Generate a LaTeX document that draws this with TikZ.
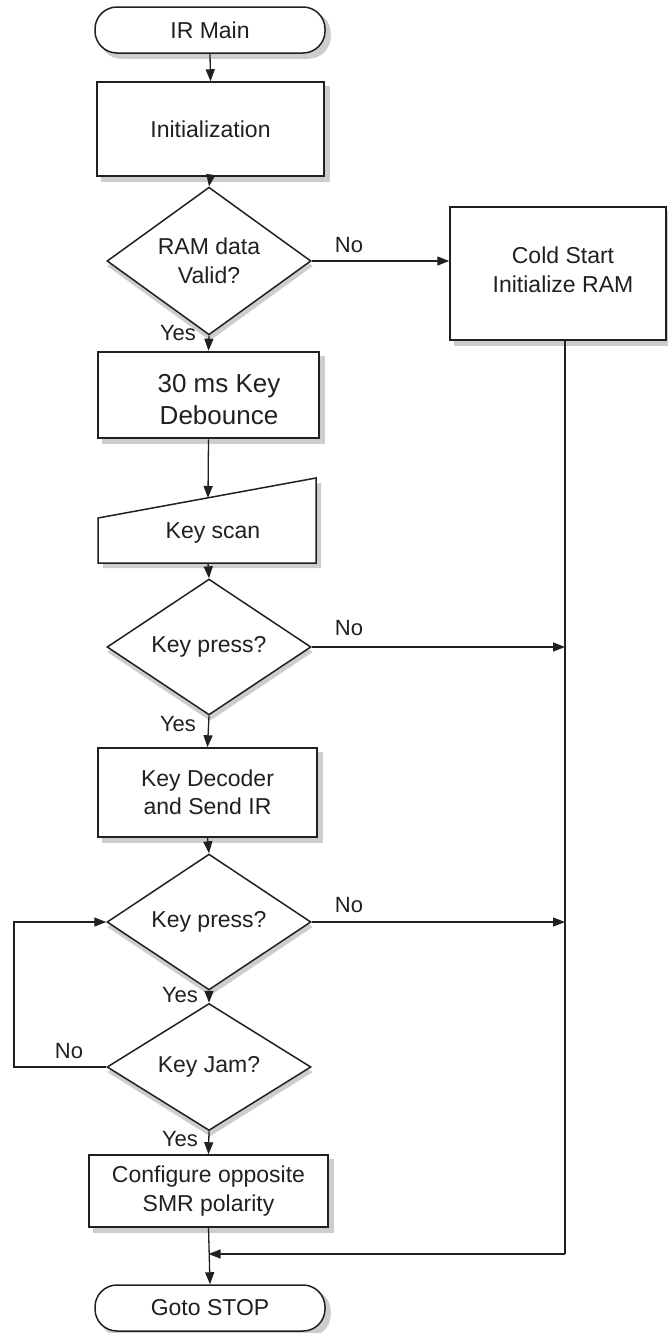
\documentclass[tikz,border=0pt]{standalone}
\usepackage{fontspec}
\setmainfont{Liberation Sans}
\usetikzlibrary{arrows.meta,shapes.geometric,backgrounds}
\definecolor{ink}{HTML}{231F20}
\definecolor{shadowgray}{HTML}{CBCDCE}
\tikzset{
  txt/.style={font=\fontsize{23}{28.5}\selectfont, align=center, text=ink},
  lbl/.style={font=\fontsize{22}{26}\selectfont, text=ink, inner sep=0pt},
  procbox/.style={txt, rectangle, draw=ink, line width=1.5pt, fill=white, inner sep=0pt},
  termbox/.style={procbox, rounded corners=22pt},
  decision/.style={txt, diamond, draw=ink, line width=1.5pt, fill=white, inner sep=0pt,
                   minimum width=204pt, minimum height=127pt},
  flow/.style={draw=ink, line width=1.3pt, -{Triangle[length=12pt,width=9pt]}},
  wire/.style={draw=ink, line width=1.3pt},
  boxshade/.style={fill=shadowgray},
}
\begin{document}
\begin{tikzpicture}[x=1pt,y=-1pt]
\useasboundingbox (0,0) rectangle (668,1333);

% process blocks
\node[termbox, minimum width=230pt, minimum height=46pt] (start) at (210,30) {IR Main};
\node[procbox, minimum width=227pt, minimum height=94pt] (init) at (210.5,129) {Initialization};
\node[decision] (ramok) at (209,261) {RAM data\\Valid?};
\node[procbox, minimum width=216pt, minimum height=133pt] (cold) at (558,273.5) {};
\node[txt] (coldtxt) at (563,270) {Cold Start\\Initialize RAM};
\node[procbox, line width=2.6pt, minimum width=221pt, minimum height=86pt] (deb) at (208.5,395) {};
\node[txt, font=\fontsize{26}{32}\selectfont] (debtxt) at (219,400) {30 ms Key\\Debounce};

% manual input: key scan
\draw[ink, line width=1.5pt, fill=white] (98,518) -- (316,478) -- (316,563) -- (98,563) -- cycle;
\node[txt] (scan) at (213,533) {Key scan};
\coordinate (scantop) at (208,498);
\coordinate (scanbot) at (208,563);

\node[decision] (press1) at (209,647) {Key press?};
\node[procbox, minimum width=219pt, minimum height=89pt] (send) at (207.5,792.5) {Key Decoder\\and Send IR};
\node[decision] (press2) at (209,922) {Key press?};
\node[decision] (jam) at (209,1067) {Key Jam?};
\node[procbox, minimum width=239pt, minimum height=72pt] (conf) at (208.5,1191) {Configure opposite\\SMR polarity};
\node[termbox, minimum width=230pt, minimum height=46pt] (stop) at (210,1308) {Goto STOP};

% drop shadows behind the blocks
\begin{scope}[on background layer]
  \foreach \n in {init,cold,deb,send,conf}
    \fill[boxshade] ([shift={(5,5)}]\n.north west) rectangle ([shift={(5,5)}]\n.south east);
  \foreach \n in {start,stop}
    \fill[boxshade, rounded corners=22pt] ([shift={(5,5)}]\n.north west) rectangle ([shift={(5,5)}]\n.south east);
  \foreach \n in {ramok,press1,press2,jam}
    \fill[boxshade] ([shift={(1,5)}]\n.north) -- ([shift={(1,5)}]\n.east)
                    -- ([shift={(1,5)}]\n.south) -- ([shift={(1,5)}]\n.west) -- cycle;
  \fill[boxshade] (103,523) -- (321,483) -- (321,568) -- (103,568) -- cycle;
\end{scope}

% return rail on the right
\coordinate (railtop) at (565,340);
\coordinate (railbot) at (565,1254);
\coordinate (merge) at (railbot -| conf.south);
\coordinate (loopx) at (14,0);

% connectors
\draw[flow] (start.south) -- (init.north);
\draw[flow] (init.south) -- (ramok.north);
\draw[flow] (ramok.east) -- (ramok.east -| cold.west);
\draw[flow] (ramok.south) -- (deb.north);
\draw[flow] (deb.south) -- (scantop);
\draw[flow] (scanbot) -- (press1.north);
\draw[flow] (press1.east) -- (press1.east -| railtop);
\draw[flow] (press1.south) -- (send.north);
\draw[flow] (send.south) -- (press2.north);
\draw[flow] (press2.east) -- (press2.east -| railtop);
\draw[flow] (press2.south) -- (jam.north);
\draw[flow] (jam.west) -- (jam.west -| loopx) -- (press2.west -| loopx) -- (press2.west);
\draw[flow] (jam.south) -- (conf.north);
\draw[flow] (conf.south) -- (stop.north);
\draw[wire] (railtop) -- (railbot);
\draw[flow] (railbot) -- (merge);

% branch labels
\node[lbl] (no1) at (349,245) {No};
\node[lbl] (yes1) at (178,333) {Yes};
\node[lbl] (no2) at (349,628) {No};
\node[lbl] (yes2) at (178,724) {Yes};
\node[lbl] (no3) at (349,905) {No};
\node[lbl] (yes3) at (180,995) {Yes};
\node[lbl] (no4) at (69,1051) {No};
\node[lbl] (yes4) at (180,1139) {Yes};
\end{tikzpicture}
\end{document}
